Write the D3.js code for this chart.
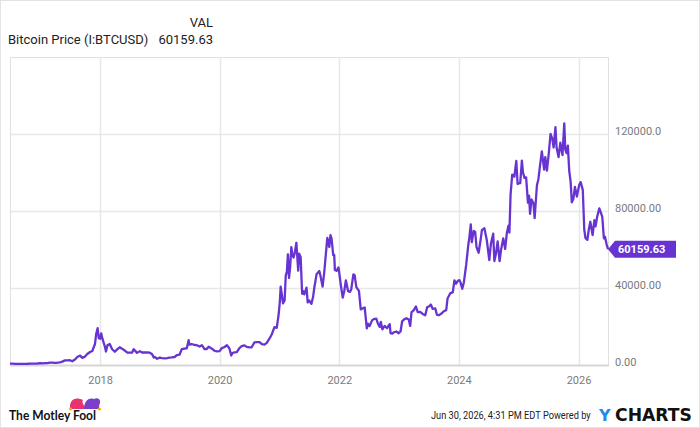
<!DOCTYPE html>
<html>
<head>
<meta charset="utf-8">
<script src="https://cdn.jsdelivr.net/npm/d3@7"></script>
<style>
  body { margin: 0; background: #fff; }
  svg { display: block; font-family: Roboto, "Liberation Sans", sans-serif; }
</style>
</head>
<body>
<svg id="chart" width="700" height="428"></svg>
<script>
// Bitcoin price, roughly twice a month
const dates = [
  "2016-06-30","2016-07-15","2016-08-01","2016-08-15","2016-09-01","2016-09-15","2016-10-01","2016-10-15","2016-11-01","2016-11-15","2016-12-01","2016-12-15",
  "2017-01-01","2017-01-15","2017-02-01","2017-02-15","2017-03-01","2017-03-15","2017-04-01","2017-04-15","2017-05-01","2017-05-15","2017-06-01","2017-06-15",
  "2017-07-01","2017-07-15","2017-08-01","2017-08-15","2017-09-01","2017-09-15","2017-10-01","2017-10-15","2017-11-01","2017-11-15","2017-12-01","2017-12-08","2017-12-17","2017-12-24",
  "2018-01-01","2018-01-08","2018-01-15","2018-02-01","2018-02-06","2018-02-15","2018-03-01","2018-03-15","2018-04-01","2018-04-15","2018-05-01","2018-05-15",
  "2018-06-01","2018-06-15","2018-07-01","2018-07-15","2018-07-25","2018-08-01","2018-08-15","2018-09-01","2018-09-15","2018-10-01","2018-10-15","2018-11-01",
  "2018-11-15","2018-11-25","2018-12-01","2018-12-15",
  "2019-01-01","2019-01-15","2019-02-01","2019-02-15","2019-03-01","2019-03-15","2019-04-01","2019-04-15","2019-05-01","2019-05-15","2019-06-01","2019-06-15",
  "2019-06-26","2019-07-01","2019-07-15","2019-08-01","2019-08-15","2019-09-01","2019-09-15","2019-10-01","2019-10-15","2019-10-26","2019-11-01","2019-11-15",
  "2019-12-01","2019-12-15",
  "2020-01-01","2020-01-15","2020-02-01","2020-02-15","2020-03-01","2020-03-12","2020-03-20","2020-04-01","2020-04-15","2020-05-01","2020-05-15","2020-06-01",
  "2020-06-15","2020-07-01","2020-07-15","2020-08-01","2020-08-15","2020-09-01","2020-09-15","2020-10-01","2020-10-15","2020-11-01","2020-11-15","2020-12-01",
  "2020-12-15","2020-12-27",
  "2021-01-03","2021-01-08","2021-01-15","2021-01-22","2021-02-01","2021-02-08","2021-02-15","2021-02-21","2021-02-28","2021-03-07","2021-03-14","2021-03-21",
  "2021-03-28","2021-04-04","2021-04-14","2021-04-25","2021-05-01","2021-05-10","2021-05-19","2021-05-25","2021-06-01","2021-06-15","2021-06-22","2021-07-01",
  "2021-07-15","2021-07-25","2021-08-01","2021-08-15","2021-09-01","2021-09-07","2021-09-21","2021-10-01","2021-10-15","2021-10-20","2021-11-01","2021-11-08",
  "2021-11-15","2021-11-25","2021-12-01","2021-12-05","2021-12-15","2021-12-27",
  "2022-01-01","2022-01-10","2022-01-22","2022-02-01","2022-02-10","2022-02-24","2022-03-07","2022-03-15","2022-03-28","2022-04-05","2022-04-15","2022-05-01",
  "2022-05-12","2022-05-25","2022-06-05","2022-06-18","2022-06-25","2022-07-05","2022-07-20","2022-07-30","2022-08-15","2022-08-25","2022-09-05","2022-09-12",
  "2022-09-21","2022-10-05","2022-10-20","2022-10-30","2022-11-05","2022-11-10","2022-11-20","2022-12-01","2022-12-15","2022-12-30",
  "2023-01-10","2023-01-20","2023-02-01","2023-02-15","2023-03-01","2023-03-10","2023-03-18","2023-04-01","2023-04-14","2023-04-25","2023-05-10","2023-05-25",
  "2023-06-10","2023-06-22","2023-07-05","2023-07-14","2023-07-25","2023-08-10","2023-08-20","2023-09-01","2023-09-15","2023-10-01","2023-10-16","2023-10-24",
  "2023-11-10","2023-11-25","2023-12-05","2023-12-15","2023-12-25",
  "2024-01-05","2024-01-12","2024-01-22","2024-02-01","2024-02-15","2024-02-28","2024-03-05","2024-03-14","2024-03-20","2024-04-01","2024-04-10","2024-04-18",
  "2024-05-01","2024-05-15","2024-05-21","2024-06-05","2024-06-20","2024-07-05","2024-07-15","2024-07-29","2024-08-05","2024-08-15","2024-08-25","2024-09-06",
  "2024-09-15","2024-09-28","2024-10-10","2024-10-20","2024-10-30","2024-11-05","2024-11-12","2024-11-22","2024-12-05","2024-12-17","2024-12-25",
  "2025-01-01","2025-01-10","2025-01-20","2025-01-27","2025-02-05","2025-02-15","2025-02-26","2025-03-05","2025-03-11","2025-03-20","2025-04-01","2025-04-08",
  "2025-04-22","2025-05-01","2025-05-10","2025-05-22","2025-06-05","2025-06-12","2025-06-22","2025-07-03","2025-07-14","2025-07-25","2025-08-02","2025-08-13",
  "2025-08-20","2025-09-01","2025-09-12","2025-09-25","2025-10-06","2025-10-12","2025-10-20","2025-10-28","2025-11-05","2025-11-14","2025-11-21","2025-12-01",
  "2025-12-10","2025-12-22",
  "2026-01-05","2026-01-14","2026-01-27","2026-02-05","2026-02-12","2026-02-24","2026-03-05","2026-03-14","2026-03-28","2026-04-08","2026-04-15","2026-04-25",
  "2026-05-08","2026-05-18","2026-05-26","2026-06-05","2026-06-12","2026-06-20","2026-06-30"
];
const prices = [
  670,665,610,570,575,610,615,640,730,715,755,780,
  995,820,985,1010,1190,1240,1080,1180,1420,1750,2400,2450,
  2500,1930,2870,4200,4900,3700,4400,5700,6750,7300,10900,16000,19100,13900,
  13600,16400,13800,9100,7000,10200,10900,8300,6900,8100,9200,8500,
  7500,6500,6400,6400,8200,7600,6300,7200,6500,6600,6500,6400,
  5600,3900,4200,3250,
  3850,3600,3450,3620,3850,3950,4150,5100,5350,8200,8550,8700,
  12900,10600,10900,10400,10300,9600,10300,8300,8300,9500,9200,8500,
  7400,7100,
  7200,8800,9350,10300,8550,4900,6200,6600,6650,8800,9800,10200,
  9400,9200,9200,11800,11900,11900,10800,10600,11500,13800,16000,19700,
  19300,26500,
  33000,40700,36700,32000,33500,46400,48500,57500,45200,51000,61200,57400,
  55800,58200,63500,49000,57800,56000,37000,38400,36700,40200,32500,33500,
  31800,35400,39900,47100,48800,46800,40700,48100,61500,66000,61300,67500,
  65500,57100,57200,49400,48900,50700,
  47700,41800,35000,38700,44000,38300,38000,39300,47100,46600,40500,38500,
  28900,29500,29900,19000,21500,20200,23200,23800,24100,21500,19800,22400,
  18500,20300,19100,20600,21200,16500,16300,17000,17400,16500,
  17400,22700,23700,24300,23600,20300,27400,28500,30400,27500,27600,26500,
  25800,30100,30500,31400,29200,29400,26100,25900,26600,27900,28500,34500,
  37300,37700,44000,42200,43600,
  44100,42800,39600,43000,52100,62500,66000,73100,63800,69700,69100,61300,
  58300,66200,70100,71100,64800,54500,63000,68200,54000,58000,64200,54000,
  59800,65800,60300,68400,72400,68800,88500,98900,97800,106000,94000,
  94400,94500,106200,100000,97200,97500,84300,88000,78500,86000,84000,76300,
  93400,96500,103000,111000,101500,108000,101000,109500,120000,117500,113000,123500,
  113000,108000,115500,109000,125500,112000,110000,114000,101000,95000,84500,86500,
  92500,87500,
  93500,95000,91000,70500,66000,65000,70500,74400,67500,75300,72000,77000,
  81400,79000,77000,65800,66500,63200,60159.63
];

const yTicks = [0, 40000, 80000, 120000];
const yTickLabels = ["0.00", "40000.00", "80000.00", "120000.0"];
const xTicks = ["2018-01-01", "2020-01-01", "2022-01-01", "2024-01-01", "2026-01-01"];
const xTickLabels = ["2018", "2020", "2022", "2024", "2026"];
const lastLabel = "60159.63";

const parse = d3.timeParse("%Y-%m-%d");
const data = dates.map((d, i) => ({ date: parse(d), value: prices[i] }));

const svg = d3.select("#chart");
const W = 700, H = 428;
const plot = { left: 10, right: 608, top: 57, bottom: 365 };
const purple = "#6734d2";

// outer frame
svg.append("rect")
  .attr("x", 0.5).attr("y", 0.5)
  .attr("width", W - 1).attr("height", H - 1)
  .attr("fill", "#fff").attr("stroke", "#e3e3e3");

const x = d3.scaleTime()
  .domain([parse("2016-06-30"), parse("2026-06-30")])
  .range([plot.left, plot.right]);

const y = d3.scaleLinear()
  .domain([0, 160000])
  .range([plot.bottom, plot.top]);

// header
svg.append("text")
  .attr("x", 213).attr("y", 27)
  .attr("text-anchor", "end")
  .attr("font-size", 13).attr("fill", "#222")
  .text("VAL");
svg.append("text")
  .attr("x", 8).attr("y", 44)
  .attr("font-size", 13).attr("fill", "#222")
  .text("Bitcoin Price (I:BTCUSD)");
svg.append("text")
  .attr("x", 213).attr("y", 44)
  .attr("text-anchor", "end")
  .attr("font-size", 13).attr("fill", "#222")
  .text(lastLabel);

// gridlines
svg.append("g")
  .selectAll("line")
  .data(yTicks.slice(1))
  .join("line")
  .attr("x1", plot.left).attr("x2", plot.right)
  .attr("y1", d => Math.round(y(d)) + 0.5).attr("y2", d => Math.round(y(d)) + 0.5)
  .attr("stroke", "#e8e8e8").attr("stroke-width", 1.5);

svg.append("g")
  .selectAll("line")
  .data(xTicks)
  .join("line")
  .attr("x1", d => Math.round(x(parse(d))) + 0.5).attr("x2", d => Math.round(x(parse(d))) + 0.5)
  .attr("y1", plot.top).attr("y2", plot.bottom)
  .attr("stroke", "#e8e8e8").attr("stroke-width", 1.5);

// plot frame
svg.append("rect")
  .attr("x", plot.left + 0.5).attr("y", plot.top + 0.5)
  .attr("width", plot.right - plot.left).attr("height", plot.bottom - plot.top)
  .attr("fill", "none").attr("stroke", "#e0e0e0");
svg.append("line")
  .attr("x1", plot.left).attr("x2", plot.right + 1)
  .attr("y1", plot.bottom + 0.5).attr("y2", plot.bottom + 0.5)
  .attr("stroke", "#d6d6d6").attr("stroke-width", 2);

// axes (labels only)
const yAxis = svg.append("g")
  .attr("transform", `translate(${plot.right},0)`)
  .call(d3.axisRight(y).tickValues(yTicks).tickFormat((d, i) => yTickLabels[i]).tickSize(0).tickPadding(7));
yAxis.select(".domain").remove();
yAxis.selectAll("text")
  .attr("dy", "0.05em")
  .attr("font-family", "Roboto, sans-serif")
  .attr("font-size", 11).attr("fill", "#7a7a7a");

const xAxis = svg.append("g")
  .attr("transform", `translate(0,${plot.bottom})`)
  .call(d3.axisBottom(x).tickValues(xTicks.map(parse)).tickFormat((d, i) => xTickLabels[i]).tickSize(0).tickPadding(11));
xAxis.select(".domain").remove();
xAxis.selectAll("text")
  .attr("font-family", "Roboto, sans-serif")
  .attr("font-size", 11).attr("fill", "#7a7a7a");

// price line
const line = d3.line()
  .x(d => x(d.date))
  .y(d => y(d.value));

svg.append("path")
  .datum(data)
  .attr("fill", "none")
  .attr("stroke", purple)
  .attr("stroke-width", 2.3)
  .attr("stroke-linejoin", "round")
  .attr("d", line);

// last value tag
const last = data[data.length - 1];
const ty = y(last.value);
const tx = x(last.date);
svg.append("path")
  .attr("d", `M${tx},${ty} L${tx + 7},${ty - 8.5} L${tx + 68},${ty - 8.5} L${tx + 68},${ty + 8.5} L${tx + 7},${ty + 8.5} Z`)
  .attr("fill", purple);
svg.append("text")
  .attr("x", tx + 10).attr("y", ty + 4)
  .attr("font-size", 11).attr("font-weight", "bold")
  .attr("fill", "#fff")
  .text(lastLabel);

// footer (narrowed to match the condensed look)
svg.append("text")
  .attr("transform", "translate(431,419) scale(0.84,1)")
  .attr("font-size", 11).attr("fill", "#222")
  .text("Jun 30, 2026, 4:31 PM EDT Powered by");

svg.append("text")
  .attr("x", 599).attr("y", 421)
  .attr("font-family", "'DejaVu Sans', sans-serif")
  .attr("font-size", 16).attr("font-weight", "bold")
  .attr("fill", "#1f8ceb")
  .text("Y");
svg.append("text")
  .attr("x", 615).attr("y", 421)
  .attr("font-family", "'DejaVu Sans', sans-serif")
  .attr("font-size", 17).attr("font-weight", "bold")
  .attr("fill", "#111")
  .attr("textLength", 77).attr("lengthAdjust", "spacingAndGlyphs")
  .text("CHARTS");

// Motley Fool logo
svg.append("text")
  .attr("x", 9).attr("y", 420)
  .attr("font-family", "Lato, sans-serif")
  .attr("font-size", 14).attr("font-weight", "bold")
  .attr("fill", "#111")
  .attr("textLength", 87).attr("lengthAdjust", "spacingAndGlyphs")
  .text("The Motley Fool");

const hat = svg.append("g").attr("transform", "translate(69,396)");
hat.append("path")
  .attr("d", "M1,13 C0,4 6,0 14,4 C12,6 16,10 16,13 Z")
  .attr("fill", "#e8336f");
hat.append("path")
  .attr("d", "M15,13 C15,6 19,1 25,3 C28,1 32,3 31,7 C30,9 30,11 30,13 Z")
  .attr("fill", "#7b3fc9");
hat.append("circle").attr("cx", 1.5).attr("cy", 13).attr("r", 1.6).attr("fill", "#f3b400");
hat.append("circle").attr("cx", 30.5).attr("cy", 13).attr("r", 1.6).attr("fill", "#f3b400");
</script>
</body>
</html>
